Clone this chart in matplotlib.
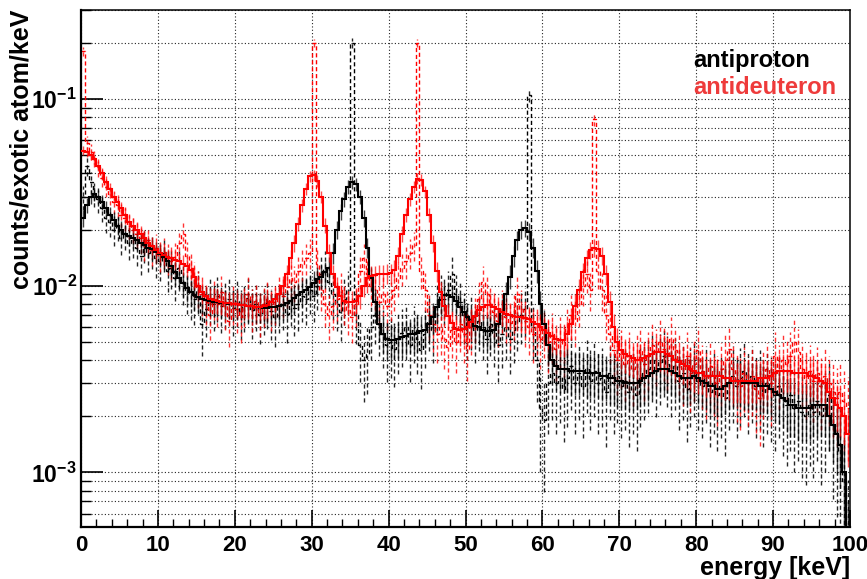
import numpy as np
import matplotlib
matplotlib.use("Agg")
import matplotlib.pyplot as plt
from matplotlib.ticker import FixedLocator, FixedFormatter, LogLocator, MultipleLocator, NullFormatter

plt.rcParams["font.family"] = ["Liberation Sans", "DejaVu Sans"]
plt.rcParams["font.weight"] = "bold"
plt.rcParams["mathtext.fontset"] = "custom"
plt.rcParams["mathtext.rm"] = "Liberation Sans:bold"
plt.rcParams["mathtext.it"] = "Liberation Sans:bold"
plt.rcParams["mathtext.bf"] = "Liberation Sans:bold"

BIN_WIDTH = 0.5  # keV, 200 bins from 0 to 100 keV

# smeared spectra (solid)
pbar_smeared = [
    0.023, 0.027, 0.030, 0.031, 0.030, 0.028, 0.026, 0.024, 0.0225, 0.021, 0.020, 0.019, 0.0185, 0.018, 0.0175, 0.017, 0.0165, 0.016, 0.0157, 0.0152,
    0.0148, 0.0142, 0.0135, 0.0127, 0.0118, 0.0110, 0.0103, 0.0097, 0.0092, 0.0089, 0.0087, 0.0085, 0.0084, 0.0083, 0.0082, 0.0082, 0.0081, 0.0081, 0.0080, 0.0080,
    0.0080, 0.0079, 0.0079, 0.0078, 0.0078, 0.0077, 0.0077, 0.0076, 0.0076, 0.0077, 0.0077, 0.0078, 0.0079, 0.0081, 0.0083, 0.0086, 0.0089, 0.0092, 0.0095, 0.0098,
    0.0104, 0.0108, 0.0112, 0.0118, 0.0125, 0.0150, 0.020, 0.025, 0.029, 0.034, 0.036, 0.035, 0.030, 0.023, 0.016, 0.011, 0.0082, 0.0062, 0.0055, 0.0052,
    0.0051, 0.0051, 0.0052, 0.0053, 0.0054, 0.0055, 0.0055, 0.0056, 0.0057, 0.0058, 0.0062, 0.0068, 0.0077, 0.0084, 0.0089, 0.0089, 0.0087, 0.0083, 0.0077, 0.0072,
    0.0068, 0.0064, 0.0061, 0.0060, 0.0058, 0.0057, 0.0057, 0.0058, 0.0062, 0.0072, 0.0090, 0.0112, 0.0145, 0.0176, 0.0200, 0.0204, 0.0195, 0.0160, 0.0120, 0.0080,
    0.0062, 0.0048, 0.0040, 0.0037, 0.0036, 0.0036, 0.0036, 0.0035, 0.0035, 0.0035, 0.0035, 0.0034, 0.0034, 0.0034, 0.0034, 0.0033, 0.0033, 0.0032, 0.0032, 0.0031,
    0.0031, 0.0030, 0.0030, 0.0030, 0.0030, 0.0031, 0.0032, 0.0033, 0.0034, 0.0035, 0.0036, 0.0036, 0.0036, 0.0035, 0.0034, 0.0033, 0.0032, 0.0032, 0.0032, 0.0033,
    0.0032, 0.0031, 0.0030, 0.0029, 0.0029, 0.0028, 0.0028, 0.0029, 0.0030, 0.0031, 0.0031, 0.0031, 0.0030, 0.0030, 0.0030, 0.0030, 0.0029, 0.0029, 0.0029, 0.0028,
    0.0027, 0.0026, 0.0025, 0.0024, 0.0023, 0.0023, 0.0022, 0.0022, 0.0022, 0.0022, 0.0023, 0.0023, 0.0023, 0.0023, 0.0020, 0.0018, 0.0016, 0.0014, 0.0010, 0.0004,
]
dbar_smeared = [
    0.053, 0.052, 0.050, 0.048, 0.044, 0.040, 0.036, 0.033, 0.030, 0.028, 0.026, 0.024, 0.022, 0.021, 0.020, 0.019, 0.018, 0.017, 0.0163, 0.0155,
    0.0150, 0.0146, 0.0142, 0.0140, 0.0138, 0.0135, 0.0130, 0.0127, 0.0122, 0.0112, 0.0100, 0.0093, 0.0088, 0.0085, 0.0084, 0.0083, 0.0082, 0.0081, 0.0081, 0.0080,
    0.0080, 0.0079, 0.0079, 0.0078, 0.0078, 0.0077, 0.0077, 0.0078, 0.0079, 0.0082, 0.0085, 0.0090, 0.0100, 0.0115, 0.0140, 0.0170, 0.0215, 0.0270, 0.0330, 0.0385,
    0.0390, 0.0365, 0.0300, 0.0210, 0.0150, 0.0115, 0.0098, 0.0088, 0.0083, 0.0082, 0.0082, 0.0083, 0.0088, 0.0100, 0.0110, 0.0113, 0.0114, 0.0115, 0.0115, 0.0116,
    0.0117, 0.0122, 0.0145, 0.0190, 0.0240, 0.0290, 0.0340, 0.0375, 0.0370, 0.0320, 0.0240, 0.0170, 0.0120, 0.0092, 0.0078, 0.0069, 0.0063, 0.0059, 0.0058, 0.0059,
    0.0060, 0.0064, 0.0069, 0.0074, 0.0077, 0.0079, 0.0079, 0.0077, 0.0075, 0.0072, 0.0071, 0.0070, 0.0069, 0.0068, 0.0068, 0.0067, 0.0066, 0.0064, 0.0062, 0.0060,
    0.0058, 0.0056, 0.0054, 0.0052, 0.0051, 0.0051, 0.0055, 0.0062, 0.0078, 0.0095, 0.0118, 0.0140, 0.0155, 0.0160, 0.0158, 0.0145, 0.0115, 0.0082, 0.0060, 0.0050,
    0.0045, 0.0043, 0.0042, 0.0041, 0.0040, 0.0040, 0.0041, 0.0042, 0.0043, 0.0044, 0.0044, 0.0044, 0.0043, 0.0042, 0.0040, 0.0039, 0.0038, 0.0037, 0.0036, 0.0035,
    0.0034, 0.0034, 0.0033, 0.0033, 0.0033, 0.0033, 0.0033, 0.0032, 0.0032, 0.0031, 0.0031, 0.0031, 0.0031, 0.0031, 0.0031, 0.0031, 0.0032, 0.0032, 0.0032, 0.0033,
    0.0034, 0.0035, 0.0035, 0.0035, 0.0035, 0.0034, 0.0034, 0.0034, 0.0034, 0.0033, 0.0033, 0.0032, 0.0031, 0.0030, 0.0027, 0.0025, 0.0023, 0.0022, 0.0020, 0.0016,
]

# raw spectra (dashed)
pbar_raw = [
    0.030, 0.044, 0.036, 0.031, 0.029, 0.026, 0.023, 0.022, 0.020, 0.021, 0.018, 0.019, 0.017, 0.0175, 0.016, 0.0145, 0.0165, 0.015, 0.0155, 0.014,
    0.0135, 0.015, 0.012, 0.0125, 0.011, 0.0125, 0.0105, 0.0095, 0.009, 0.0085, 0.0095, 0.0062, 0.0075, 0.0085, 0.008, 0.0088, 0.0078, 0.0082, 0.0085, 0.0076,
    0.0083, 0.0073, 0.0079, 0.0086, 0.0074, 0.0080, 0.0070, 0.0077, 0.0082, 0.0073, 0.0068, 0.0078, 0.0081, 0.0071, 0.0084, 0.0076, 0.0080, 0.0088, 0.0085, 0.0095,
    0.0088, 0.0100, 0.0115, 0.0125, 0.0105, 0.0090, 0.0080, 0.0072, 0.0085, 0.0095, 0.20, 0.0070, 0.0048, 0.0040, 0.0043, 0.0060, 0.0070, 0.0062, 0.0055, 0.0048,
    0.0050, 0.0046, 0.0052, 0.0056, 0.0060, 0.0048, 0.0058, 0.0052, 0.0045, 0.0055, 0.0065, 0.0058, 0.0080, 0.0090, 0.0085, 0.0095, 0.0115, 0.0090, 0.0082, 0.0070,
    0.0060, 0.0066, 0.0058, 0.0065, 0.0060, 0.0052, 0.0062, 0.0056, 0.0048, 0.0055, 0.0060, 0.0052, 0.0058, 0.0065, 0.0070, 0.0075, 0.105, 0.0060, 0.0040, 0.0022,
    0.0019, 0.0030, 0.0034, 0.0030, 0.0033, 0.0028, 0.0032, 0.0037, 0.0030, 0.0034, 0.0029, 0.0036, 0.0031, 0.0035, 0.0030, 0.0032, 0.0027, 0.0034, 0.0030, 0.0033,
    0.0029, 0.0031, 0.0027, 0.0030, 0.0026, 0.0032, 0.0034, 0.0036, 0.0040, 0.0035, 0.0039, 0.0042, 0.0038, 0.0035, 0.0037, 0.0031, 0.0034, 0.0028, 0.0032, 0.0035,
    0.0031, 0.0029, 0.0033, 0.0027, 0.0030, 0.0026, 0.0029, 0.0025, 0.0031, 0.0033, 0.0029, 0.0032, 0.0035, 0.0030, 0.0033, 0.0029, 0.0031, 0.0027, 0.0030, 0.0028,
    0.0026, 0.0029, 0.0025, 0.0023, 0.0026, 0.0022, 0.0024, 0.0021, 0.0020, 0.0023, 0.0021, 0.0024, 0.0020, 0.0022, 0.0026, 0.0018, 0.0016, 0.0013, 0.0009, 0.0004,
]
dbar_raw = [
    0.18, 0.058, 0.052, 0.048, 0.043, 0.038, 0.034, 0.031, 0.028, 0.027, 0.024, 0.023, 0.021, 0.020, 0.019, 0.018, 0.0165, 0.0175, 0.0155, 0.016,
    0.0145, 0.0152, 0.014, 0.0135, 0.0142, 0.0170, 0.0190, 0.0145, 0.0125, 0.0110, 0.0098, 0.0090, 0.0082, 0.0070, 0.0086, 0.0080, 0.0092, 0.0078, 0.0065, 0.0082,
    0.0075, 0.0068, 0.0080, 0.0090, 0.0076, 0.0083, 0.0072, 0.0080, 0.0085, 0.0077, 0.0082, 0.0090, 0.0088, 0.0098, 0.0110, 0.0105, 0.0120, 0.0130, 0.0140, 0.0150,
    0.20, 0.0130, 0.0095, 0.0080, 0.0070, 0.0078, 0.0085, 0.0095, 0.0082, 0.0074, 0.0068, 0.0080, 0.0120, 0.0140, 0.0115, 0.0100, 0.0095, 0.0082, 0.0090, 0.0078,
    0.0085, 0.0095, 0.0110, 0.0125, 0.0135, 0.0150, 0.0165, 0.20, 0.0120, 0.0095, 0.0070, 0.0062, 0.0055, 0.0060, 0.0052, 0.0047, 0.0058, 0.0050, 0.0062, 0.0055,
    0.0046, 0.0060, 0.0068, 0.0085, 0.0105, 0.0090, 0.0080, 0.0072, 0.0065, 0.0075, 0.0068, 0.0063, 0.0070, 0.0090, 0.0075, 0.0065, 0.0060, 0.0055, 0.0060, 0.0052,
    0.0058, 0.0050, 0.0055, 0.0046, 0.0052, 0.0048, 0.0060, 0.0070, 0.0065, 0.0080, 0.0100, 0.0115, 0.0095, 0.078, 0.0120, 0.0095, 0.0070, 0.0055, 0.0045, 0.0040,
    0.0043, 0.0038, 0.0042, 0.0036, 0.0040, 0.0045, 0.0038, 0.0042, 0.0048, 0.0044, 0.0050, 0.0046, 0.0042, 0.0052, 0.0045, 0.0040, 0.0036, 0.0042, 0.0034, 0.0038,
    0.0045, 0.0035, 0.0032, 0.0037, 0.0033, 0.0030, 0.0036, 0.0040, 0.0046, 0.0036, 0.0031, 0.0029, 0.0034, 0.0030, 0.0033, 0.0028, 0.0025, 0.0032, 0.0036, 0.0030,
    0.0042, 0.0035, 0.0040, 0.0038, 0.0042, 0.0050, 0.0044, 0.0036, 0.0032, 0.0035, 0.0031, 0.0034, 0.0029, 0.0033, 0.0030, 0.0027, 0.0025, 0.0027, 0.0024, 0.0022,
]

# counting-statistics scale of each histogram: error = sqrt(value * scale)
pbar_smeared_errscale = 2.4e-4
dbar_smeared_errscale = 1.8e-4
pbar_raw_errscale = 6.5e-4
dbar_raw_errscale = 5.0e-4

x_ticks = [0, 10, 20, 30, 40, 50, 60, 70, 80, 90, 100]
y_ticks = [1e-3, 1e-2, 1e-1]
y_tick_labels = [r"$10^{-3}$", r"$10^{-2}$", r"$10^{-1}$"]


def draw_hist(ax, values, errscale, color, ls, lw, err_alpha, zorder):
    values = np.asarray(values)
    edges = np.arange(len(values) + 1) * BIN_WIDTH
    centers = edges[:-1] + BIN_WIDTH / 2
    err = np.sqrt(values * errscale)
    low = np.maximum(values - err, 1e-5)
    ax.vlines(centers, low, values + err, colors=color, linestyles=ls,
              lw=1.0, alpha=err_alpha, zorder=zorder)
    ax.stairs(values, edges, baseline=None, color=color, linestyle=ls, lw=lw, zorder=zorder + 0.5)


fig = plt.figure(figsize=(8.67, 5.79), dpi=100)
ax = fig.add_axes([81 / 867, 52 / 579, 769 / 867, 517 / 579])

dash = (0, (3, 2))
draw_hist(ax, pbar_raw, pbar_raw_errscale, "black", dash, 1.0, 0.85, 2)
draw_hist(ax, dbar_raw, dbar_raw_errscale, "red", dash, 1.0, 0.8, 2)
draw_hist(ax, pbar_smeared, pbar_smeared_errscale, "black", "-", 1.5, 0.75, 4)
draw_hist(ax, dbar_smeared, dbar_smeared_errscale, "red", "-", 1.5, 0.7, 4)

ax.set_xlim(0, 100)
ax.set_yscale("log")
ax.set_ylim(5.1e-4, 0.3)

ax.xaxis.set_major_locator(FixedLocator(x_ticks))
ax.xaxis.set_minor_locator(MultipleLocator(2))
ax.yaxis.set_major_locator(FixedLocator(y_ticks))
ax.yaxis.set_major_formatter(FixedFormatter(y_tick_labels))
ax.yaxis.set_minor_locator(LogLocator(base=10, subs=np.arange(2, 10)))
ax.yaxis.set_minor_formatter(NullFormatter())

ax.tick_params(axis="both", which="both", direction="in", top=False, right=False)
ax.tick_params(axis="y", which="major", length=16, width=1.2, labelsize=16.5, pad=3)
ax.tick_params(axis="y", which="minor", length=7, width=1.0)
ax.tick_params(axis="x", which="major", length=12, width=1.2, labelsize=16, pad=6)
ax.tick_params(axis="x", which="minor", length=6, width=1.0)

grid_style = dict(color="#222222", linestyle=(0, (1, 2)), linewidth=0.8)
ax.grid(True, which="major", axis="x", **grid_style)
ax.grid(True, which="both", axis="y", **grid_style)
ax.set_axisbelow(True)

for side in ["left", "bottom"]:
    ax.spines[side].set_linewidth(1.6)
for side in ["top", "right"]:
    ax.spines[side].set_linewidth(1.1)

fig.text(850 / 867, 4 / 579, "energy [keV]", ha="right", va="baseline",
         fontsize=18, fontweight="bold")
fig.text(22 / 867, 1 - 10 / 579, "counts/exotic atom/keV", rotation=90,
         ha="center", va="top", fontsize=18, fontweight="bold")

fig.text(693 / 867, 1 - 67 / 579, "antiproton", color="black",
         fontsize=17, fontweight="bold", va="baseline")
fig.text(693 / 867, 1 - 94 / 579, "antideuteron", color="#ee3b3b",
         fontsize=17, fontweight="bold", va="baseline")

fig.savefig("out.png", dpi=100)
